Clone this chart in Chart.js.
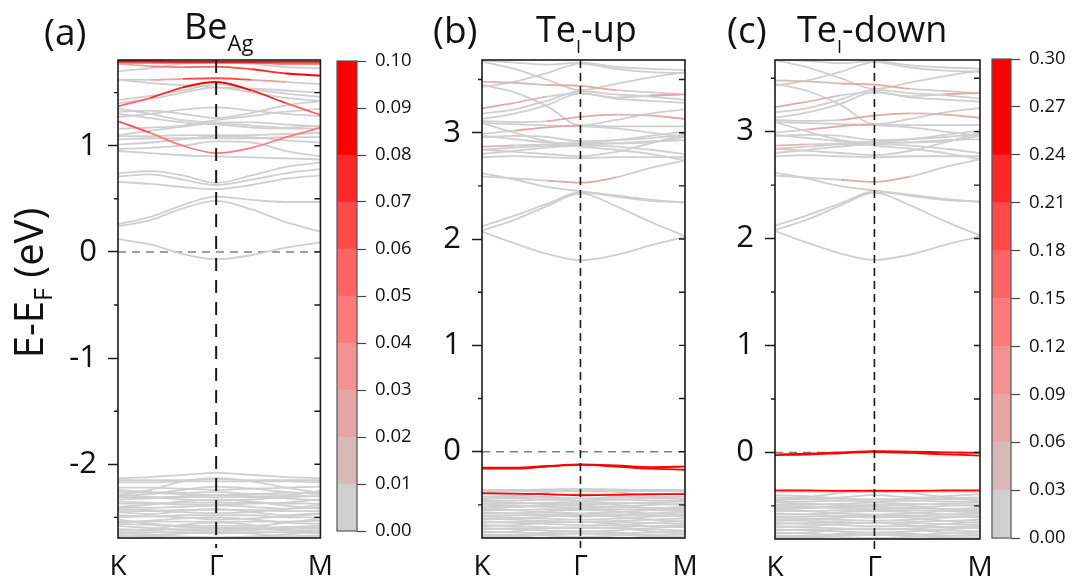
<!DOCTYPE html>
<html>
<head>
<meta charset="utf-8">
<script src="https://cdn.jsdelivr.net/npm/chart.js@4/dist/chart.umd.min.js"></script>
<style>
  body { margin: 0; background: #fff; width: 1075px; height: 581px; position: relative; overflow: hidden; font-family: "Open Sans", sans-serif; color: #111; }
  canvas { position: absolute; top: 0; }
  .t { position: absolute; font-size: 36px; line-height: 36px; white-space: nowrap; }
  .p { font-size: 37px; line-height: 37px; }
  .t sub { vertical-align: baseline; position: relative; }
  #ytitle { position: absolute; width: 260px; height: 40px; left: -102px; top: 263px; font-size: 40px; line-height: 40px; text-align: center; transform: rotate(-90deg); white-space: nowrap; }
  #ytitle sub { font-size: 25px; vertical-align: baseline; position: relative; top: 9px; }
</style>
</head>
<body>
<canvas id="panelA" width="345" height="581" style="left:0px"></canvas>
<canvas id="panelB" width="330" height="581" style="left:380px"></canvas>
<canvas id="panelC" width="325" height="581" style="left:680px"></canvas>
<canvas id="cbarA" width="90" height="581" style="left:330px"></canvas>
<canvas id="cbarC" width="90" height="581" style="left:985px"></canvas>

<div class="t p" style="left:44px;top:12px">(a)</div>
<div class="t" style="left:184px;top:8px">Be<sub style="font-size:22px;top:12px">Ag</sub></div>
<div class="t p" style="left:433px;top:10px">(b)</div>
<div class="t" style="left:536px;top:11px">Te<sub style="font-size:18px;top:11px">I</sub>-up</div>
<div class="t p" style="left:727px;top:10px">(c)</div>
<div class="t" style="left:797px;top:11px">Te<sub style="font-size:18px;top:11px">I</sub>-down</div>
<div id="ytitle">E-E<sub>F</sub> (eV)</div>

<script>
// k-path: K -> Gamma -> M, sampled at 7 points
const kPath = [0, 0.16, 0.32, 0.485, 0.66, 0.83, 1];
const kTicks = [0, 0.485, 1];
const kLabels = ['K', 'Γ', 'M'];

// colour levels (gray -> red), same steps on both colour bars
const levelColors = ['#cfcfcf', '#d8b9b9', '#e6a6a6', '#f29292', '#ff7b7b', '#ff6464', '#ff4a4a', '#ff2828', '#ff0000', '#ff0000'];
const cbLevelsA = [0, 0.01, 0.02, 0.03, 0.04, 0.05, 0.06, 0.07, 0.08, 0.09, 0.10];
const cbLevelsC = [0, 0.03, 0.06, 0.09, 0.12, 0.15, 0.18, 0.21, 0.24, 0.27, 0.30];

// (a) Be_Ag
const yRangeBe = [-2.694, 1.807];
const yMajorBe = [-2, -1, 0, 1];
const yMinorBe = [-2.5, -1.5, -0.5, 0.5, 1.5];
const bandsBeCond = [
  [0.12, 0.07, -0.02, -0.07, -0.03, 0.04, 0.09],
  [0.24, 0.30, 0.41, 0.48, 0.40, 0.28, 0.19],
  [0.26, 0.33, 0.44, 0.52, 0.49, 0.47, 0.47],
  [0.66, 0.64, 0.61, 0.59, 0.63, 0.69, 0.72],
  [0.71, 0.73, 0.68, 0.63, 0.68, 0.74, 0.78],
  [0.74, 0.76, 0.72, 0.65, 0.72, 0.80, 0.84],
  [1.23, 1.12, 1.00, 0.93, 0.98, 1.08, 1.17],
  [0.95, 0.93, 0.91, 0.90, 0.89, 0.88, 0.87],
  [0.97, 0.98, 1.00, 1.04, 1.03, 0.95, 0.90],
  [1.06, 1.07, 1.07, 1.07, 1.07, 1.08, 1.08],
  [1.09, 1.09, 1.10, 1.10, 1.10, 1.11, 1.12],
  [1.01, 1.03, 1.06, 1.09, 1.08, 1.05, 1.03],
  [1.30, 1.26, 1.22, 1.20, 1.17, 1.16, 1.16],
  [1.35, 1.30, 1.24, 1.22, 1.22, 1.20, 1.18],
  [1.10, 1.14, 1.18, 1.21, 1.19, 1.17, 1.19],
  [1.16, 1.17, 1.19, 1.24, 1.28, 1.32, 1.35],
  [1.27, 1.30, 1.34, 1.36, 1.33, 1.30, 1.28],
  [1.32, 1.33, 1.30, 1.26, 1.31, 1.38, 1.42],
  [1.37, 1.45, 1.55, 1.60, 1.52, 1.40, 1.29],
  [1.40, 1.44, 1.50, 1.55, 1.50, 1.45, 1.42],
  [1.43, 1.47, 1.52, 1.58, 1.53, 1.49, 1.46],
  [1.62, 1.59, 1.57, 1.55, 1.54, 1.52, 1.50],
  [1.62, 1.62, 1.63, 1.635, 1.62, 1.60, 1.58],
  [1.77, 1.75, 1.74, 1.745, 1.72, 1.68, 1.66],
  [1.70, 1.73, 1.77, 1.79, 1.77, 1.74, 1.73],
  [1.78, 1.78, 1.78, 1.78, 1.78, 1.77, 1.77],
  [1.795, 1.795, 1.79, 1.79, 1.79, 1.79, 1.79]
];
const weightsBeCond = [
  0, 0, 0, 0, 0, 0,
  [0.07, 0.05, 0.04, 0.04, 0.04, 0.04, 0.05],
  0, 0, 0, 0, 0, 0, 0, 0, 0, 0, 0,
  [0.04, 0.06, 0.08, 0.09, 0.08, 0.06, 0.04],
  0, 0, 0,
  [0, 0.01, 0.04, 0.09, 0.04, 0, 0],
  [0.02, 0.03, 0.05, 0.06, 0.07, 0.08, 0.08],
  0,
  0.05,
  0.09
];
const bandsBeVal = [
  [-2.13, -2.12, -2.10, -2.08, -2.10, -2.12, -2.13],
  [-2.15, -2.15, -2.15, -2.14, -2.15, -2.15, -2.15],
  [-2.17, -2.17, -2.16, -2.16, -2.16, -2.16, -2.17],
  [-2.29, -2.24, -2.16, -2.13, -2.16, -2.22, -2.27],
  [-2.30, -2.28, -2.24, -2.21, -2.23, -2.26, -2.28],
  [-2.24, -2.26, -2.27, -2.26, -2.28, -2.29, -2.25],
  [-2.22, -2.22, -2.23, -2.24, -2.23, -2.22, -2.21],
  [-2.26, -2.27, -2.28, -2.29, -2.28, -2.27, -2.27],
  [-2.31, -2.31, -2.31, -2.31, -2.31, -2.30, -2.30],
  [-2.33, -2.32, -2.30, -2.29, -2.30, -2.32, -2.34],
  [-2.28, -2.31, -2.33, -2.34, -2.33, -2.31, -2.30],
  [-2.35, -2.36, -2.38, -2.38, -2.37, -2.36, -2.33],
  [-2.37, -2.37, -2.36, -2.36, -2.36, -2.37, -2.37],
  [-2.40, -2.38, -2.35, -2.33, -2.35, -2.39, -2.42],
  [-2.40, -2.41, -2.40, -2.39, -2.40, -2.42, -2.40],
  [-2.42, -2.43, -2.45, -2.46, -2.45, -2.42, -2.38],
  [-2.44, -2.44, -2.43, -2.43, -2.43, -2.44, -2.44],
  [-2.45, -2.47, -2.44, -2.42, -2.45, -2.48, -2.46],
  [-2.48, -2.49, -2.48, -2.48, -2.48, -2.50, -2.50],
  [-2.50, -2.49, -2.50, -2.52, -2.51, -2.49, -2.47],
  [-2.55, -2.53, -2.51, -2.50, -2.52, -2.55, -2.56],
  [-2.52, -2.56, -2.58, -2.58, -2.58, -2.55, -2.51],
  [-2.54, -2.54, -2.54, -2.54, -2.54, -2.54, -2.53],
  [-2.56, -2.57, -2.59, -2.60, -2.60, -2.59, -2.58],
  [-2.58, -2.60, -2.62, -2.63, -2.62, -2.60, -2.60],
  [-2.62, -2.61, -2.57, -2.55, -2.57, -2.62, -2.64],
  [-2.61, -2.62, -2.61, -2.61, -2.61, -2.62, -2.62],
  [-2.64, -2.64, -2.64, -2.65, -2.64, -2.64, -2.65],
  [-2.65, -2.66, -2.68, -2.69, -2.68, -2.66, -2.63],
  [-2.68, -2.67, -2.65, -2.64, -2.65, -2.68, -2.68],
  [-2.67, -2.68, -2.69, -2.69, -2.69, -2.68, -2.67]
];

// (b) and (c) Te_I: conduction bands and deep valence look the same in both spins
const yRangeTeUp = [-0.812, 3.684];
const yRangeTeDown = [-0.81, 3.67];
const yMajorTe = [0, 1, 2, 3];
const yMinorTe = [-0.5, 0.5, 1.5, 2.5, 3.5];
const bandsTeCond = [
  [2.07, 1.96, 1.86, 1.80, 1.85, 1.94, 2.02],
  [2.08, 2.18, 2.31, 2.43, 2.31, 2.16, 2.03],
  [2.12, 2.22, 2.33, 2.44, 2.40, 2.36, 2.35],
  [2.62, 2.56, 2.49, 2.45, 2.41, 2.37, 2.34],
  [2.59, 2.57, 2.55, 2.53, 2.58, 2.67, 2.74],
  [2.77, 2.78, 2.77, 2.76, 2.77, 2.77, 2.77],
  [2.84, 2.86, 2.88, 2.89, 2.90, 2.92, 2.93],
  [2.87, 2.88, 2.89, 2.90, 2.90, 2.91, 2.96],
  [2.80, 2.83, 2.86, 2.88, 2.87, 2.84, 2.80],
  [2.97, 2.94, 2.91, 2.90, 2.93, 2.97, 3.01],
  [2.99, 3.02, 3.05, 3.07, 3.06, 3.06, 3.06],
  [3.09, 3.08, 3.07, 3.06, 3.04, 3.00, 2.96],
  [3.11, 3.10, 3.11, 3.15, 3.17, 3.16, 3.13],
  [3.13, 3.18, 3.26, 3.37, 3.32, 3.30, 3.28],
  [3.18, 3.22, 3.30, 3.39, 3.36, 3.34, 3.31],
  [3.23, 3.28, 3.34, 3.37, 3.33, 3.35, 3.36],
  [3.45, 3.38, 3.25, 3.07, 3.12, 3.18, 3.22],
  [3.48, 3.47, 3.45, 3.44, 3.40, 3.38, 3.36],
  [3.43, 3.48, 3.56, 3.65, 3.60, 3.57, 3.56],
  [3.67, 3.60, 3.50, 3.40, 3.46, 3.52, 3.57],
  [3.68, 3.66, 3.64, 3.66, 3.62, 3.60, 3.59],
  [2.96, 2.97, 2.96, 2.92, 2.93, 2.95, 2.98],
  [3.09, 3.00, 2.92, 2.87, 2.84, 2.80, 2.74],
  [2.84, 2.82, 2.80, 2.78, 2.82, 2.90, 2.99]
];
const weightsTeCond = [
  0, 0, 0, 0,
  [0, 0, 0.05, 0.08, 0.05, 0, 0],
  0, 0,
  [0.06, 0, 0, 0, 0, 0, 0],
  0, 0,
  [0, 0.04, 0.08, 0.04, 0, 0, 0],
  0,
  [0, 0, 0.05, 0.08, 0.05, 0.04, 0.08],
  0, 0,
  [0.08, 0.05, 0.02, 0, 0, 0.04, 0.08],
  0,
  [0.08, 0.02, 0.04, 0.08, 0.04, 0, 0],
  0, 0, 0, 0, 0, 0
];
const bandsTeVal = [
  [-0.36, -0.36, -0.355, -0.35, -0.355, -0.36, -0.36],
  [-0.37, -0.37, -0.37, -0.37, -0.37, -0.37, -0.37],
  [-0.45, -0.42, -0.38, -0.37, -0.38, -0.42, -0.45],
  [-0.40, -0.41, -0.43, -0.44, -0.43, -0.41, -0.39],
  [-0.42, -0.43, -0.42, -0.40, -0.42, -0.43, -0.42],
  [-0.44, -0.44, -0.45, -0.46, -0.45, -0.44, -0.44],
  [-0.46, -0.46, -0.45, -0.44, -0.45, -0.46, -0.46],
  [-0.47, -0.48, -0.49, -0.50, -0.49, -0.48, -0.47],
  [-0.49, -0.49, -0.48, -0.47, -0.48, -0.49, -0.50],
  [-0.50, -0.51, -0.52, -0.53, -0.52, -0.50, -0.49],
  [-0.52, -0.52, -0.51, -0.51, -0.52, -0.53, -0.52],
  [-0.54, -0.52, -0.50, -0.49, -0.50, -0.53, -0.55],
  [-0.53, -0.55, -0.57, -0.58, -0.57, -0.55, -0.53],
  [-0.55, -0.55, -0.54, -0.54, -0.54, -0.55, -0.56],
  [-0.58, -0.58, -0.56, -0.55, -0.56, -0.58, -0.59],
  [-0.57, -0.58, -0.59, -0.59, -0.59, -0.58, -0.57],
  [-0.61, -0.62, -0.63, -0.64, -0.63, -0.61, -0.60],
  [-0.60, -0.60, -0.60, -0.61, -0.60, -0.60, -0.61],
  [-0.64, -0.63, -0.61, -0.60, -0.61, -0.64, -0.66],
  [-0.63, -0.64, -0.65, -0.66, -0.65, -0.64, -0.63],
  [-0.66, -0.67, -0.68, -0.69, -0.69, -0.67, -0.65],
  [-0.67, -0.66, -0.66, -0.66, -0.66, -0.67, -0.68],
  [-0.70, -0.69, -0.67, -0.66, -0.68, -0.70, -0.71],
  [-0.69, -0.70, -0.71, -0.72, -0.71, -0.70, -0.69],
  [-0.72, -0.73, -0.74, -0.75, -0.74, -0.72, -0.70],
  [-0.73, -0.72, -0.72, -0.72, -0.72, -0.73, -0.74],
  [-0.76, -0.75, -0.72, -0.71, -0.72, -0.75, -0.77],
  [-0.75, -0.76, -0.77, -0.77, -0.77, -0.76, -0.75],
  [-0.78, -0.78, -0.79, -0.80, -0.79, -0.78, -0.78],
  [-0.80, -0.80, -0.78, -0.77, -0.78, -0.80, -0.81],
  [-0.79, -0.79, -0.76, -0.75, -0.76, -0.79, -0.80],
  [-0.81, -0.81, -0.81, -0.81, -0.81, -0.81, -0.81]
];
const bandsTeUpTop = [
  [-0.15, -0.15, -0.135, -0.12, -0.13, -0.145, -0.14],
  [-0.16, -0.16, -0.14, -0.125, -0.14, -0.16, -0.17],
  [-0.39, -0.395, -0.40, -0.41, -0.405, -0.40, -0.40]
];
const weightsTeUpTop = [0.28, 0.28, 0.28];
const bandsTeDownTop = [
  [-0.02, -0.012, 0.0, 0.012, 0.008, 0.0, -0.005],
  [-0.025, -0.02, -0.008, 0.005, -0.005, -0.018, -0.03],
  [-0.355, -0.355, -0.36, -0.36, -0.36, -0.355, -0.355]
];
const weightsTeDownTop = [0.28, 0.28, 0.28];

Chart.defaults.font.family = 'Open Sans';
Chart.defaults.color = '#111';

function colorFor(w, step) {
  let i = Math.floor(w / step + 1e-6);
  i = Math.max(0, Math.min(levelColors.length - 1, i));
  return levelColors[i];
}

function bandSets(bands, weights, step) {
  return bands.map((b, i) => {
    const w = weights ? weights[i] : 0;
    const wAt = j => Array.isArray(w) ? w[j] : w;
    const maxW = Array.isArray(w) ? Math.max(...w) : w;
    return {
      data: b.map((e, j) => ({ x: kPath[j], y: e })),
      borderColor: colorFor(maxW, step),
      borderWidth: 1.8,
      pointRadius: 0,
      cubicInterpolationMode: 'monotone',
      order: -maxW, // reddest bands end up on top
      segment: {
        borderColor: ctx => colorFor((wAt(ctx.p0DataIndex) + wAt(ctx.p1DataIndex)) / 2, step)
      }
    };
  });
}

// frame, minor ticks, dashed Gamma and Fermi lines
const bandFrame = {
  id: 'bandFrame',
  beforeDatasetsDraw(chart, args, o) {
    const { ctx, chartArea: a, scales: { y } } = chart;
    const y0 = y.getPixelForValue(0);
    ctx.save();
    ctx.strokeStyle = '#808080';
    ctx.lineWidth = 1.5;
    ctx.setLineDash([8, 6]);
    ctx.beginPath();
    ctx.moveTo(a.left, y0);
    ctx.lineTo(a.right, y0);
    ctx.stroke();
    ctx.restore();
  },
  afterDraw(chart, args, o) {
    const { ctx, chartArea: a, scales: { x, y } } = chart;
    ctx.save();
    // Gamma line
    const xg = x.getPixelForValue(kTicks[1]);
    ctx.strokeStyle = '#1a1a1a';
    ctx.lineWidth = o.gammaWidth;
    ctx.setLineDash(o.gammaDash);
    ctx.beginPath();
    ctx.moveTo(xg, a.top);
    ctx.lineTo(xg, a.bottom + 10);
    ctx.stroke();
    ctx.setLineDash([]);
    // frame
    ctx.lineWidth = 1.6;
    ctx.strokeRect(a.left, a.top, a.right - a.left, a.bottom - a.top);
    // left minor ticks (outward), right ticks (inward)
    ctx.lineWidth = 1.4;
    ctx.beginPath();
    o.minor.forEach(v => {
      const p = y.getPixelForValue(v);
      ctx.moveTo(a.left - 4, p); ctx.lineTo(a.left, p);
    });
    o.minor.concat(o.major).forEach(v => {
      const p = y.getPixelForValue(v);
      ctx.moveTo(a.right - 6, p); ctx.lineTo(a.right, p);
    });
    ctx.stroke();
    ctx.restore();
  }
};

function makeBandChart(id, o) {
  return new Chart(document.getElementById(id), {
    type: 'line',
    data: { datasets: o.sets },
    options: {
      responsive: false,
      animation: false,
      events: [],
      layout: { padding: { left: 0, top: 60, right: o.right, bottom: 0 } },
      plugins: {
        legend: { display: false },
        tooltip: { enabled: false },
        bandFrame: { major: o.major, minor: o.minor, gammaDash: o.gammaDash, gammaWidth: o.gammaWidth }
      },
      scales: {
        x: {
          type: 'linear', min: 0, max: 1,
          afterBuildTicks: s => { s.ticks = kTicks.map(v => ({ value: v })); },
          afterFit: s => { s.height = o.xHeight; },
          ticks: { font: { size: 28 }, padding: 12, maxRotation: 0, autoSkip: false, callback: (v, i) => kLabels[i] },
          grid: { display: false, drawTicks: false },
          border: { display: false }
        },
        y: {
          type: 'linear', min: o.range[0], max: o.range[1],
          afterBuildTicks: s => { s.ticks = o.major.map(v => ({ value: v })); },
          afterFit: s => { s.width = o.yWidth; },
          ticks: { font: { size: 31 }, padding: 11, callback: v => String(v) },
          grid: { drawOnChartArea: false, tickLength: 10, tickColor: '#1a1a1a', tickWidth: 1.5 },
          border: { display: false }
        }
      }
    },
    plugins: [bandFrame]
  });
}

makeBandChart('panelA', {
  sets: bandSets(bandsBeCond, weightsBeCond, 0.01).concat(bandSets(bandsBeVal, null, 0.01)),
  range: yRangeBe, major: yMajorBe, minor: yMinorBe,
  yWidth: 118, right: 24, xHeight: 43, gammaDash: [13, 9], gammaWidth: 2
});
makeBandChart('panelB', {
  sets: bandSets(bandsTeCond, weightsTeCond, 0.03).concat(bandSets(bandsTeVal, null, 0.03), bandSets(bandsTeUpTop, weightsTeUpTop, 0.03)),
  range: yRangeTeUp, major: yMajorTe, minor: yMinorTe,
  yWidth: 102, right: 25, xHeight: 43, gammaDash: [8, 5], gammaWidth: 1.6
});
makeBandChart('panelC', {
  sets: bandSets(bandsTeCond, weightsTeCond, 0.03).concat(bandSets(bandsTeVal, null, 0.03), bandSets(bandsTeDownTop, weightsTeDownTop, 0.03)),
  range: yRangeTeDown, major: yMajorTe, minor: yMinorTe,
  yWidth: 95, right: 25, xHeight: 42, gammaDash: [8, 5], gammaWidth: 1.6
});

// colour bars as stacked bars
const cbFrame = {
  id: 'cbFrame',
  afterDraw(chart) {
    const { ctx, chartArea: a } = chart;
    ctx.save();
    ctx.strokeStyle = '#555';
    ctx.lineWidth = 1.2;
    ctx.strokeRect(a.left, a.top, a.right - a.left, a.bottom - a.top);
    ctx.restore();
  }
};

function makeColorbar(id, levels, padding, axisWidth) {
  const datasets = levels.slice(1).map((hi, i) => ({
    data: [hi - levels[i]],
    backgroundColor: levelColors[i],
    borderWidth: 0,
    barPercentage: 1,
    categoryPercentage: 1
  }));
  return new Chart(document.getElementById(id), {
    type: 'bar',
    data: { labels: [''], datasets },
    options: {
      responsive: false,
      animation: false,
      events: [],
      layout: { padding },
      plugins: { legend: { display: false }, tooltip: { enabled: false } },
      scales: {
        x: { display: false, stacked: true },
        y: {
          stacked: true, position: 'right', min: 0, max: levels[levels.length - 1],
          afterBuildTicks: s => { s.ticks = levels.map(v => ({ value: v })); },
          afterFit: s => { s.width = axisWidth; },
          ticks: { font: { size: 18.5 }, padding: 9, callback: v => v.toFixed(2) },
          grid: { drawOnChartArea: false, tickLength: 9, tickColor: '#444', tickWidth: 1.2 },
          border: { display: false }
        }
      }
    },
    plugins: [cbFrame]
  });
}

makeColorbar('cbarA', cbLevelsA, { left: 7, top: 61, right: 0, bottom: 50 }, 63);
makeColorbar('cbarC', cbLevelsC, { left: 7, top: 59, right: 0, bottom: 43 }, 64);
</script>
</body>
</html>
